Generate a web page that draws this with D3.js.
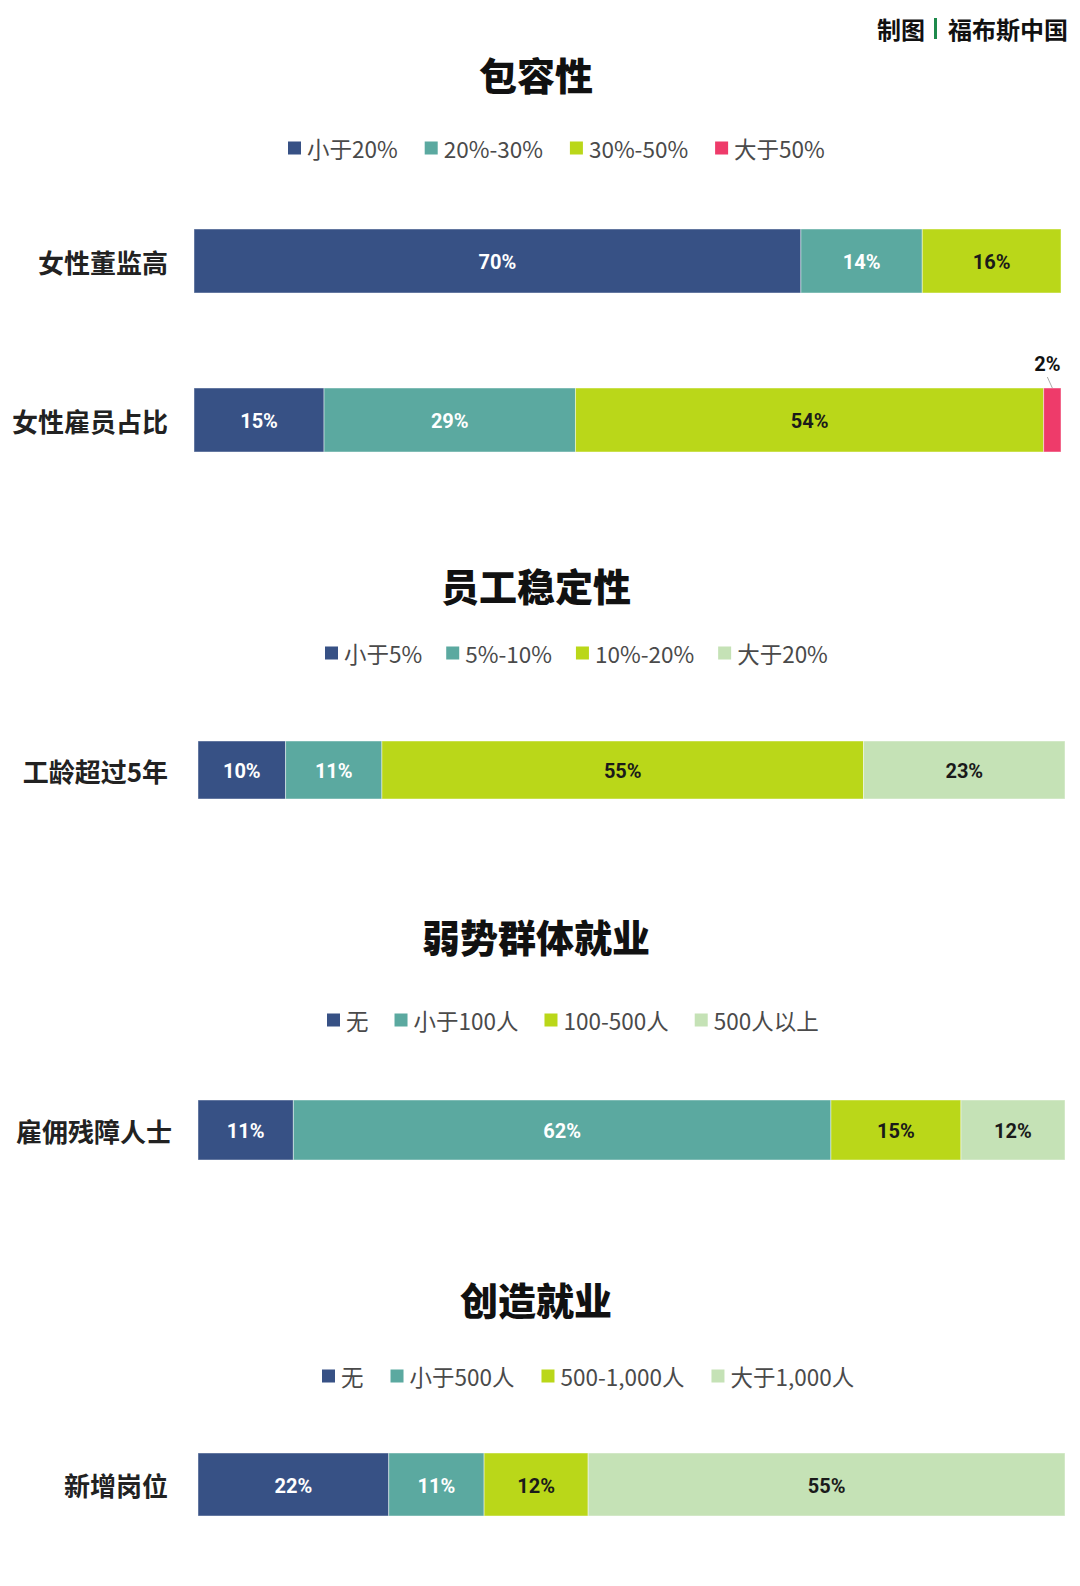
<!DOCTYPE html>
<html><head><meta charset="utf-8">
<script src="https://cdn.jsdelivr.net/npm/d3@7"></script>
<style>
html,body{margin:0;padding:0;background:#fff;}
svg{display:block;}
</style></head>
<body>
<svg id="chart" width="1080" height="1586"></svg>
<script>
// ---- data ----
const titles = ["包容性", "员工稳定性", "弱势群体就业", "创造就业"];
const legend1 = ["小于20%", "20%-30%", "30%-50%", "大于50%"];
const legend2 = ["小于5%", "5%-10%", "10%-20%", "大于20%"];
const legend3 = ["无", "小于100人", "100-500人", "500人以上"];
const legend4 = ["无", "小于500人", "500-1,000人", "大于1,000人"];
const categories1 = ["女性董监高", "女性雇员占比"];
const categories2 = ["工龄超过5年"];
const categories3 = ["雇佣残障人士"];
const categories4 = ["新增岗位"];
const values1 = [[70, 14, 16, 0], [15, 29, 54, 2]];
const values2 = [[10, 11, 55, 23]];
const values3 = [[11, 62, 15, 12]];
const values4 = [[22, 11, 12, 55]];
const colors1 = ["#375185", "#5BA9A0", "#BAD719", "#EE3B6A"];
const colors2 = ["#375185", "#5BA9A0", "#BAD719", "#C5E2B6"];

// ---- layout ----
const panels = [
  {title: titles[0], legend: legend1, cats: categories1, vals: values1, colors: colors1, gapL: 27,
   titleY: 73, legendY: 148, legendX: 288, x0: 194, x1: 1061, labelX: 168, top: 229, bh: 64, gap: 95},
  {title: titles[1], legend: legend2, cats: categories2, vals: values2, colors: colors2, gapL: 24,
   titleY: 584, legendY: 653, legendX: 325, x0: 198, x1: 1065, labelX: 168, top: 741, bh: 58, gap: 0},
  {title: titles[2], legend: legend3, cats: categories3, vals: values3, colors: colors2, gapL: 26,
   titleY: 935, legendY: 1020, legendX: 327, x0: 198, x1: 1065, labelX: 172, top: 1100, bh: 60, gap: 0},
  {title: titles[3], legend: legend4, cats: categories4, vals: values4, colors: colors2, gapL: 27,
   titleY: 1298, legendY: 1376, legendX: 322, x0: 198, x1: 1065, labelX: 168, top: 1453, bh: 63, gap: 0}
];
const darkText = new Set(["#BAD719", "#C5E2B6"]);
const CJK = "'Noto Sans CJK SC', 'Noto Sans', sans-serif";
const NUM = "Roboto, 'Noto Sans', sans-serif";

const svg = d3.select("#chart");

// source credit
svg.append("text").attr("x", 1068).attr("y", 28).attr("text-anchor", "end")
  .attr("dominant-baseline", "central").style("font-family", CJK).style("font-weight", 700)
  .style("font-size", "24px").attr("fill", "#111").text("福布斯中国");
svg.append("rect").attr("x", 934).attr("y", 18).attr("width", 3).attr("height", 21).attr("fill", "#1E8A4C");
svg.append("text").attr("x", 925).attr("y", 28).attr("text-anchor", "end")
  .attr("dominant-baseline", "central").style("font-family", CJK).style("font-weight", 700)
  .style("font-size", "24px").attr("fill", "#111").text("制图");

panels.forEach(p => {
  const g = svg.append("g");
  // title
  g.append("text").attr("x", 536).attr("y", p.titleY).attr("text-anchor", "middle")
    .attr("dominant-baseline", "central").style("font-family", CJK).style("font-weight", 900)
    .style("font-size", "38px").attr("fill", "#111").text(p.title);

  // legend
  let lx = p.legendX;
  p.legend.forEach((name, i) => {
    g.append("rect").attr("x", lx).attr("y", p.legendY - 6.5).attr("width", 13).attr("height", 13)
      .attr("fill", p.colors[i]);
    const t = g.append("text").attr("x", lx + 19).attr("y", p.legendY).attr("dominant-baseline", "central")
      .style("font-family", CJK).style("font-size", "22.5px").attr("fill", "#4a4a4a").text(name);
    lx += 19 + t.node().getComputedTextLength() + p.gapL;
  });

  // bars
  const n = p.cats.length;
  const y = d3.scaleBand().domain(p.cats)
    .range([p.top, p.top + p.bh * n + p.gap * (n - 1)])
    .paddingInner(n > 1 ? p.gap / (p.bh + p.gap) : 0).paddingOuter(0);

  p.cats.forEach((cat, ci) => {
    const row = p.vals[ci];
    const total = d3.sum(row);
    const x = d3.scaleLinear().domain([0, total]).range([p.x0, p.x1]);
    const by = y(cat), bh = y.bandwidth();

    g.append("text").attr("x", p.labelX).attr("y", by + bh / 2).attr("text-anchor", "end")
      .attr("dominant-baseline", "central").style("font-family", CJK).style("font-weight", 700)
      .style("font-size", "26px").attr("fill", "#222").text(cat);

    let acc = 0;
    row.forEach((v, i) => {
      if (v <= 0) { acc += v; return; }
      const xs = x(acc), xe = x(acc + v);
      acc += v;
      g.append("rect").attr("x", xs).attr("y", by).attr("width", xe - xs).attr("height", bh)
        .attr("fill", p.colors[i]).attr("stroke", "rgba(255,255,255,0.45)").attr("stroke-width", 1);
      const cx = (xs + xe) / 2;
      const dark = darkText.has(p.colors[i]);
      if (xe - xs > 40) {
        g.append("text").attr("x", cx).attr("y", by + bh / 2 + 1).attr("text-anchor", "middle")
          .attr("dominant-baseline", "central").style("font-family", NUM).style("font-weight", 700)
          .style("font-size", "20px").attr("fill", dark ? "#1a1a1a" : "#ffffff").text(v + "%");
      } else {
        g.append("line").attr("x1", cx - 5).attr("y1", by - 11).attr("x2", cx).attr("y2", by)
          .attr("stroke", "#aaa").attr("stroke-width", 1);
        g.append("text").attr("x", cx - 5).attr("y", by - 24).attr("text-anchor", "middle")
          .attr("dominant-baseline", "central").style("font-family", NUM).style("font-weight", 700)
          .style("font-size", "20px").attr("fill", "#111").text(v + "%");
      }
    });
  });
});
</script>
</body></html>
